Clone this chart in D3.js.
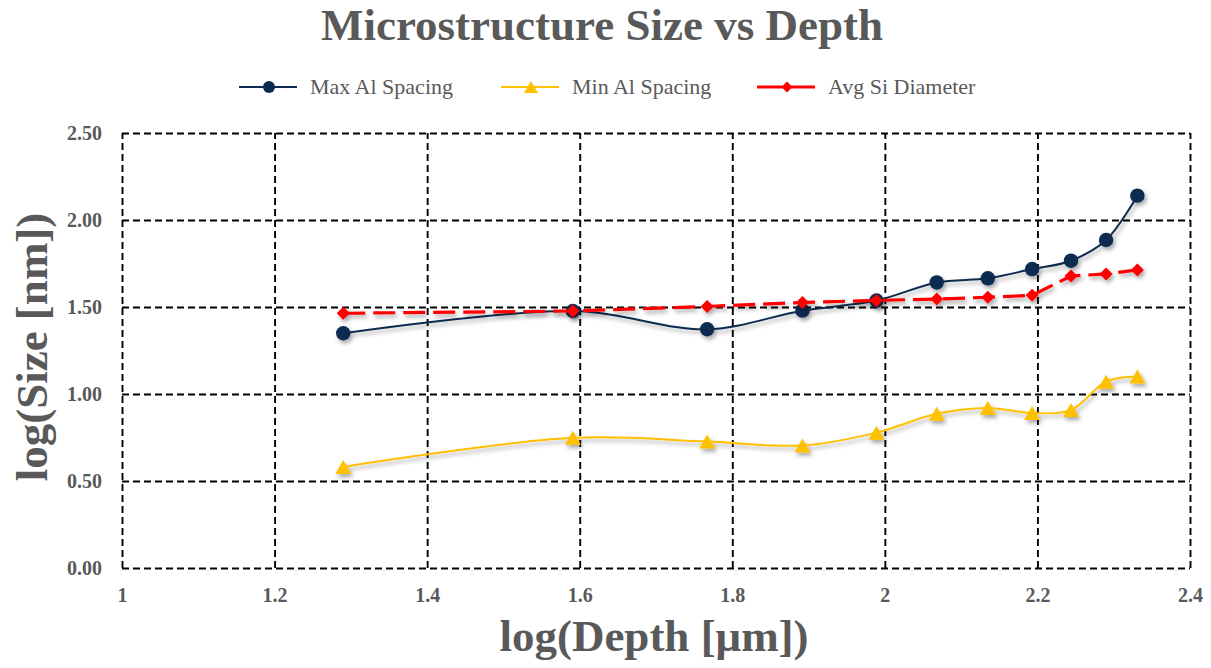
<!DOCTYPE html>
<html><head><meta charset="utf-8">
<script src="https://cdn.jsdelivr.net/npm/d3@7"></script>
<style>
body{margin:0;background:#fff}
text{font-family:"Liberation Serif","Times New Roman",serif;fill:#595959}
</style>
</head><body>
<svg id="chart" width="1211" height="668"></svg>
<script>
// ---- data ----
const logDepth       = [1.290, 1.591, 1.767, 1.892, 1.989, 2.068, 2.135, 2.193, 2.244, 2.290, 2.331];
const maxAlSpacing   = [1.349, 1.477, 1.372, 1.479, 1.537, 1.641, 1.665, 1.718, 1.766, 1.885, 2.140];
const minAlSpacing   = [0.581, 0.748, 0.727, 0.704, 0.778, 0.886, 0.920, 0.891, 0.908, 1.071, 1.100];
const avgSiDiameter  = [1.464, 1.477, 1.503, 1.526, 1.538, 1.546, 1.556, 1.567, 1.678, 1.690, 1.713];
const seriesNames    = ["Max Al Spacing", "Min Al Spacing", "Avg Si Diameter"];
const xTickValues    = [1, 1.2, 1.4, 1.6, 1.8, 2, 2.2, 2.4];
const xTickLabels    = ["1", "1.2", "1.4", "1.6", "1.8", "2", "2.2", "2.4"];
const yTickValues    = [0, 0.5, 1, 1.5, 2, 2.5];
const yTickLabels    = ["0.00", "0.50", "1.00", "1.50", "2.00", "2.50"];
const chartTitle     = "Microstructure Size vs Depth";
const xTitle         = "log(Depth [\u03bcm])";
const yTitle         = "log(Size [nm])";

// ---- layout ----
const svg = d3.select("#chart");
const L = 122, R = 1190, T = 133, B = 568;
const x = d3.scaleLinear().domain([1, 2.4]).range([L, R]);
const y = d3.scaleLinear().domain([0, 2.5]).range([B, T]);

const defs = svg.append("defs");
const f = defs.append("filter").attr("id","shadow").attr("x","-20%").attr("y","-20%").attr("width","140%").attr("height","160%");
f.append("feDropShadow").attr("dx",2).attr("dy",3).attr("stdDeviation",2)
  .attr("flood-color","#000").attr("flood-opacity",0.35);

// grid via axes
const gx = svg.append("g").attr("transform",`translate(0,${B})`)
  .call(d3.axisBottom(x).tickValues(xTickValues)
    .tickFormat((d,i)=>xTickLabels[i]).tickSize(-(B-T)).tickPadding(20));
const gy = svg.append("g").attr("transform",`translate(${L},0)`)
  .call(d3.axisLeft(y).tickValues(yTickValues)
    .tickFormat((d,i)=>yTickLabels[i]).tickSize(-(R-L)).tickPadding(20));
[gx, gy].forEach(g=>{
  g.select(".domain").remove();
  g.selectAll(".tick line").attr("stroke","#000").attr("stroke-width",1.9).attr("stroke-dasharray","7,4");
  g.selectAll(".tick text").attr("font-size",20).attr("font-weight","bold")
    .attr("fill","#595959").attr("font-family","Liberation Serif, Times New Roman, serif");
});

// titles
svg.append("text").attr("x",602).attr("y",40).attr("text-anchor","middle")
  .attr("font-size",45).attr("font-weight","bold").text(chartTitle);
svg.append("text").attr("x",654).attr("y",651).attr("text-anchor","middle")
  .attr("font-size",45).attr("font-weight","bold").text(xTitle);
svg.append("text").attr("transform","translate(47,347) rotate(-90)").attr("text-anchor","middle")
  .attr("font-size",45).attr("font-weight","bold").text(yTitle);

// marker shapes
const circlePath = r => d3.symbol(d3.symbolCircle, Math.PI*r*r)();
const triPath = (w,h) => `M0,${-h/2}L${w/2},${h/2}L${-w/2},${h/2}Z`;
const diaPath = (s) => `M0,${-s}L${s},0L0,${s}L${-s},0Z`;

const series = [
  {name:seriesNames[0], vals:maxAlSpacing, color:"#0b2a4f", width:2, dash:null, curve:d3.curveCatmullRom.alpha(0.5), marker:circlePath(7.2), lmarker:circlePath(6)},
  {name:seriesNames[1], vals:minAlSpacing, color:"#ffc000", width:2, dash:null, curve:d3.curveCatmullRom.alpha(0.5), marker:triPath(16,14), lmarker:triPath(14,12)},
  {name:seriesNames[2], vals:avgSiDiameter, color:"#ff0000", width:3.2, dash:"22,8", curve:d3.curveLinear, marker:diaPath(6.5), lmarker:diaPath(5.5)}
];

const plot = svg.append("g");
series.forEach(s=>{
  const pts = logDepth.map((d,i)=>[x(d), y(s.vals[i])]);
  const g = plot.append("g").attr("filter","url(#shadow)");
  g.append("path").attr("d", d3.line().curve(s.curve)(pts))
    .attr("fill","none").attr("stroke",s.color).attr("stroke-width",s.width)
    .attr("stroke-dasharray", s.dash);
  g.selectAll("path.m").data(pts).join("path").attr("class","m")
    .attr("transform",p=>`translate(${p[0]},${p[1]})`).attr("d",s.marker).attr("fill",s.color);
});

// legend
const legX = [239, 501, 757];
const legY = 87;
series.forEach((s,i)=>{
  const g = svg.append("g").attr("transform",`translate(${legX[i]},${legY})`);
  g.append("line").attr("x1",0).attr("x2",58).attr("stroke",s.color).attr("stroke-width",s.width);
  g.append("path").attr("transform","translate(30,0)").attr("d",s.lmarker).attr("fill",s.color);
  g.append("text").attr("x",71).attr("y",7).attr("font-size",22).text(s.name);
});
</script>
</body></html>
